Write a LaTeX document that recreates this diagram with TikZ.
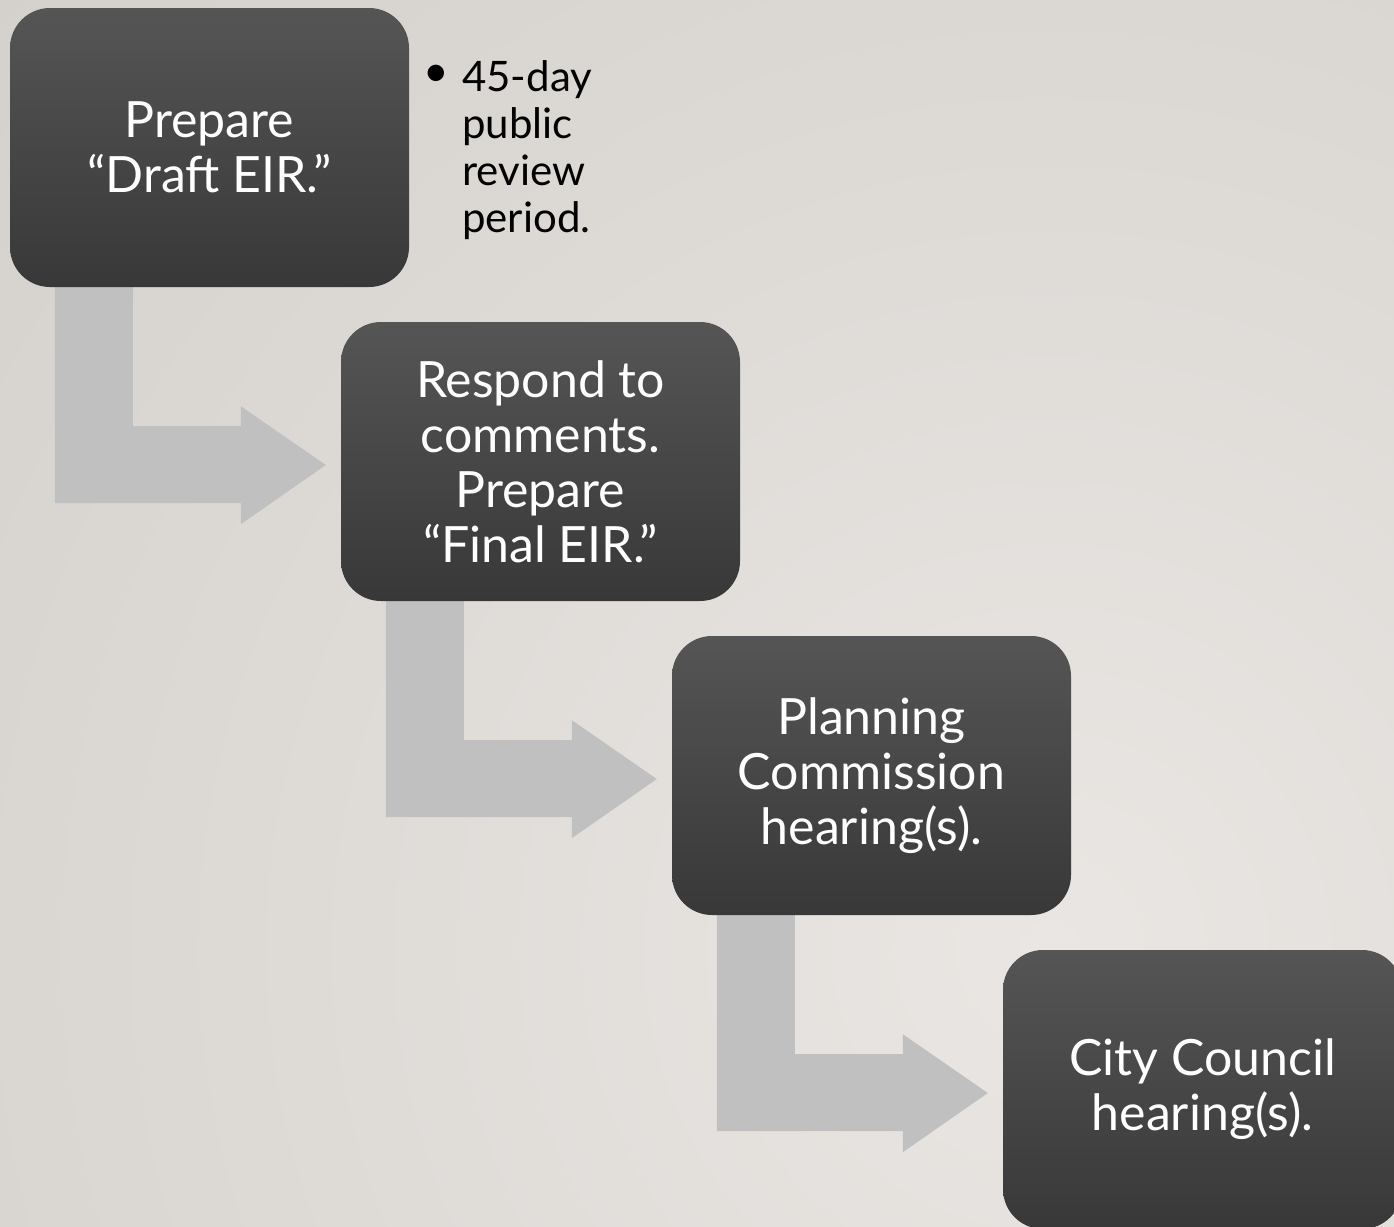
\documentclass[tikz,border=0pt]{standalone}
\usepackage{fontspec}
\setmainfont{Lato}
\usetikzlibrary{calc}
\pgfdeclarelayer{bg}
\pgfdeclarelayer{mid}
\pgfsetlayers{bg,mid,main}
\definecolor{bgin}{HTML}{E9E6E3}
\definecolor{bgout}{HTML}{D3D0CB}
\definecolor{arrowc}{HTML}{C0C0C0}
\definecolor{boxtop}{HTML}{555555}
\definecolor{boxbot}{HTML}{383838}
\tikzset{
  stepbox/.style={rectangle, rounded corners=40pt, minimum width=399pt, minimum height=279pt,
    top color=boxtop, bottom color=boxbot, draw=none, text=white, align=center,
    font=\fontsize{50pt}{55pt}\selectfont, inner sep=0pt},
  notetext/.style={align=left, text=black, font=\fontsize{42pt}{47pt}\selectfont, inner sep=0pt},
  bendarrow/.style={fill=arrowc, draw=none}
}
\begin{document}
\begin{tikzpicture}[x=1pt,y=-1pt]
\useasboundingbox (0,0) rectangle (1394,1226);
\clip (0,0) rectangle (1394,1226);
\begin{pgfonlayer}{bg}
  \clip (0,0) rectangle (1394,1226);
  \shade[inner color=bgin, outer color=bgout] (1050,950) circle (1500);
\end{pgfonlayer}

\node[stepbox] (b1) at (209.5,147.5) {Prepare\\“Draft EIR.”};
\node[stepbox] (b2) at (540.5,461.5) {Respond to\\comments.\\Prepare\\“Final EIR.”};
\node[stepbox] (b3) at (871.5,775.5) {Planning\\Commission\\hearing(s).};
\node[stepbox] (b4) at (1202.5,1089.5) {City Council\\hearing(s).};

\node[notetext, anchor=center] (bul) at (436,76) {\scalebox{1.05}{•}};
\node[notetext, anchor=north west] (note) at (462,60) {45-day\\public\\review\\period.};

\begin{pgfonlayer}{mid}
\foreach \a/\b in {b1/b2, b2/b3, b3/b4}{
  \fill[bendarrow]
    ($(\a.south west)+(45,-2)$) --
    ($(\a.south west)+(123,-2)$) --
    ($(\a.south west)+(123,139)$) --
    ($(\a.south west)+(231,139)$) --
    ($(\a.south west)+(231,119)$) --
    ($(\b.west)+(-15,3.5)$) --
    ($(\a.south west)+(231,237)$) --
    ($(\a.south west)+(231,216)$) --
    ($(\a.south west)+(45,216)$) -- cycle;
}
\end{pgfonlayer}
\end{tikzpicture}
\end{document}
